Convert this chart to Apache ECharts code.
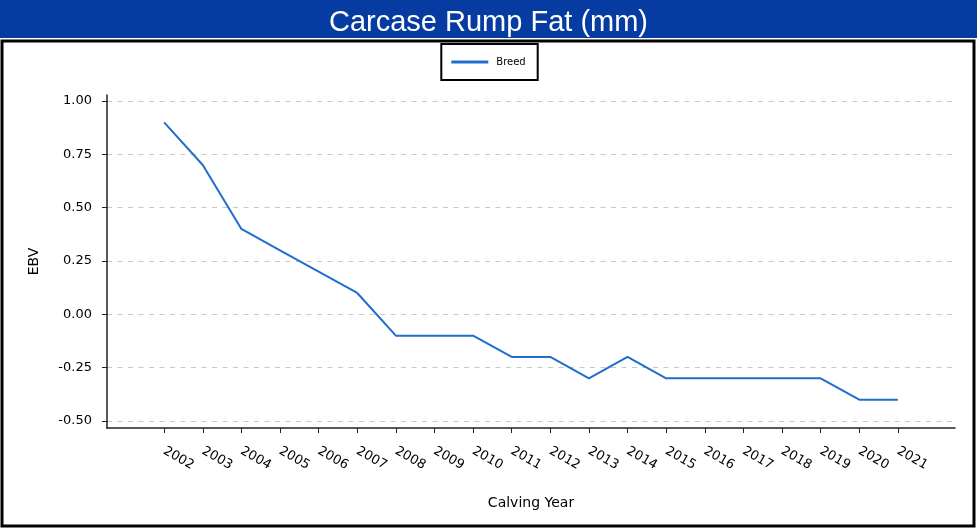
<!DOCTYPE html>
<html>
<head>
<meta charset="utf-8">
<script src="https://cdn.jsdelivr.net/npm/echarts@6/dist/echarts.min.js"></script>
<style>
  html, body { margin: 0; padding: 0; background: #fff; }
  #chart { width: 977px; height: 528px; }
</style>
</head>
<body>
<div id="chart"></div>
<script>
// calving years and breed EBV trend
var years = [2002, 2003, 2004, 2005, 2006, 2007, 2008, 2009, 2010, 2011,
             2012, 2013, 2014, 2015, 2016, 2017, 2018, 2019, 2020, 2021];
var breedEbv = [0.9, 0.7, 0.4, 0.3, 0.2, 0.1, -0.1, -0.1, -0.1, -0.2,
                -0.2, -0.3, -0.2, -0.3, -0.3, -0.3, -0.3, -0.3, -0.4, -0.4];
var yTicks = [-0.5, -0.25, 0, 0.25, 0.5, 0.75, 1.0];

var chart = echarts.init(document.getElementById('chart'));

var pts = [];
for (var i = 0; i < years.length; i++) {
    pts.push([years[i], breedEbv[i]]);
}

var font = 'DejaVu Sans';

var option = {
    animation: false,
    backgroundColor: '#fff',
    title: {
        text: 'Carcase Rump Fat (mm)',
        left: 'center',
        top: 3,
        textStyle: { color: '#fff', fontFamily: 'Liberation Sans', fontWeight: 'normal', fontSize: 29 }
    },
    graphic: [
        { type: 'rect', z: -10, shape: { x: 0, y: 0, width: 977, height: 38 }, style: { fill: '#063ca1' } },
        { type: 'rect', z: -10, shape: { x: 2, y: 41, width: 972, height: 485 },
          style: { fill: 'none', stroke: '#000', lineWidth: 3 } }
    ],
    legend: {
        top: 44,
        left: 'center',
        padding: [13, 12, 13, 10],
        borderColor: '#000',
        borderWidth: 2,
        itemWidth: 37,
        itemHeight: 3,
        itemGap: 10,
        icon: 'rect',
        textStyle: { fontFamily: font, fontSize: 10, color: '#000', padding: [0, 0, 0, 3] },
        data: ['Breed']
    },
    grid: { left: 107, right: 22, top: 95, bottom: 100 },
    xAxis: {
        type: 'value',
        min: 2000.52,
        max: 2022.48,
        name: 'Calving Year',
        nameLocation: 'middle',
        nameGap: 68,
        nameTextStyle: { fontFamily: font, fontSize: 14, color: '#000' },
        axisLine: { onZero: false, lineStyle: { color: '#222', width: 1.5 } },
        axisTick: { show: true, length: 5, customValues: years, lineStyle: { color: '#222' } },
        axisLabel: {
            customValues: years,
            rotate: -30,
            margin: 22,
            fontFamily: font,
            fontSize: 13,
            color: '#000',
            formatter: function (v) { return String(Math.round(v)); }
        },
        splitLine: { show: false }
    },
    yAxis: {
        type: 'value',
        min: -0.533,
        max: 1.028,
        name: 'EBV',
        nameLocation: 'middle',
        nameGap: 66,
        nameTextStyle: { fontFamily: font, fontSize: 14, color: '#000' },
        axisLine: { show: true, onZero: false, lineStyle: { color: '#222', width: 1.5 } },
        axisTick: { show: true, length: 5, customValues: yTicks, lineStyle: { color: '#222' } },
        axisLabel: {
            customValues: yTicks,
            margin: 15,
            fontFamily: font,
            fontSize: 13,
            color: '#000',
            formatter: function (v) { return v.toFixed(2); }
        },
        splitLine: { show: true, lineStyle: { color: '#c8c8c8', type: [5, 5.5], width: 1 } }
    },
    series: [{
        name: 'Breed',
        type: 'line',
        data: pts,
        showSymbol: false,
        symbol: 'none',
        itemStyle: { color: '#1f6ecd' },
        lineStyle: { color: '#1f6ecd', width: 2 }
    }]
};

chart.setOption(option);
</script>
</body>
</html>
